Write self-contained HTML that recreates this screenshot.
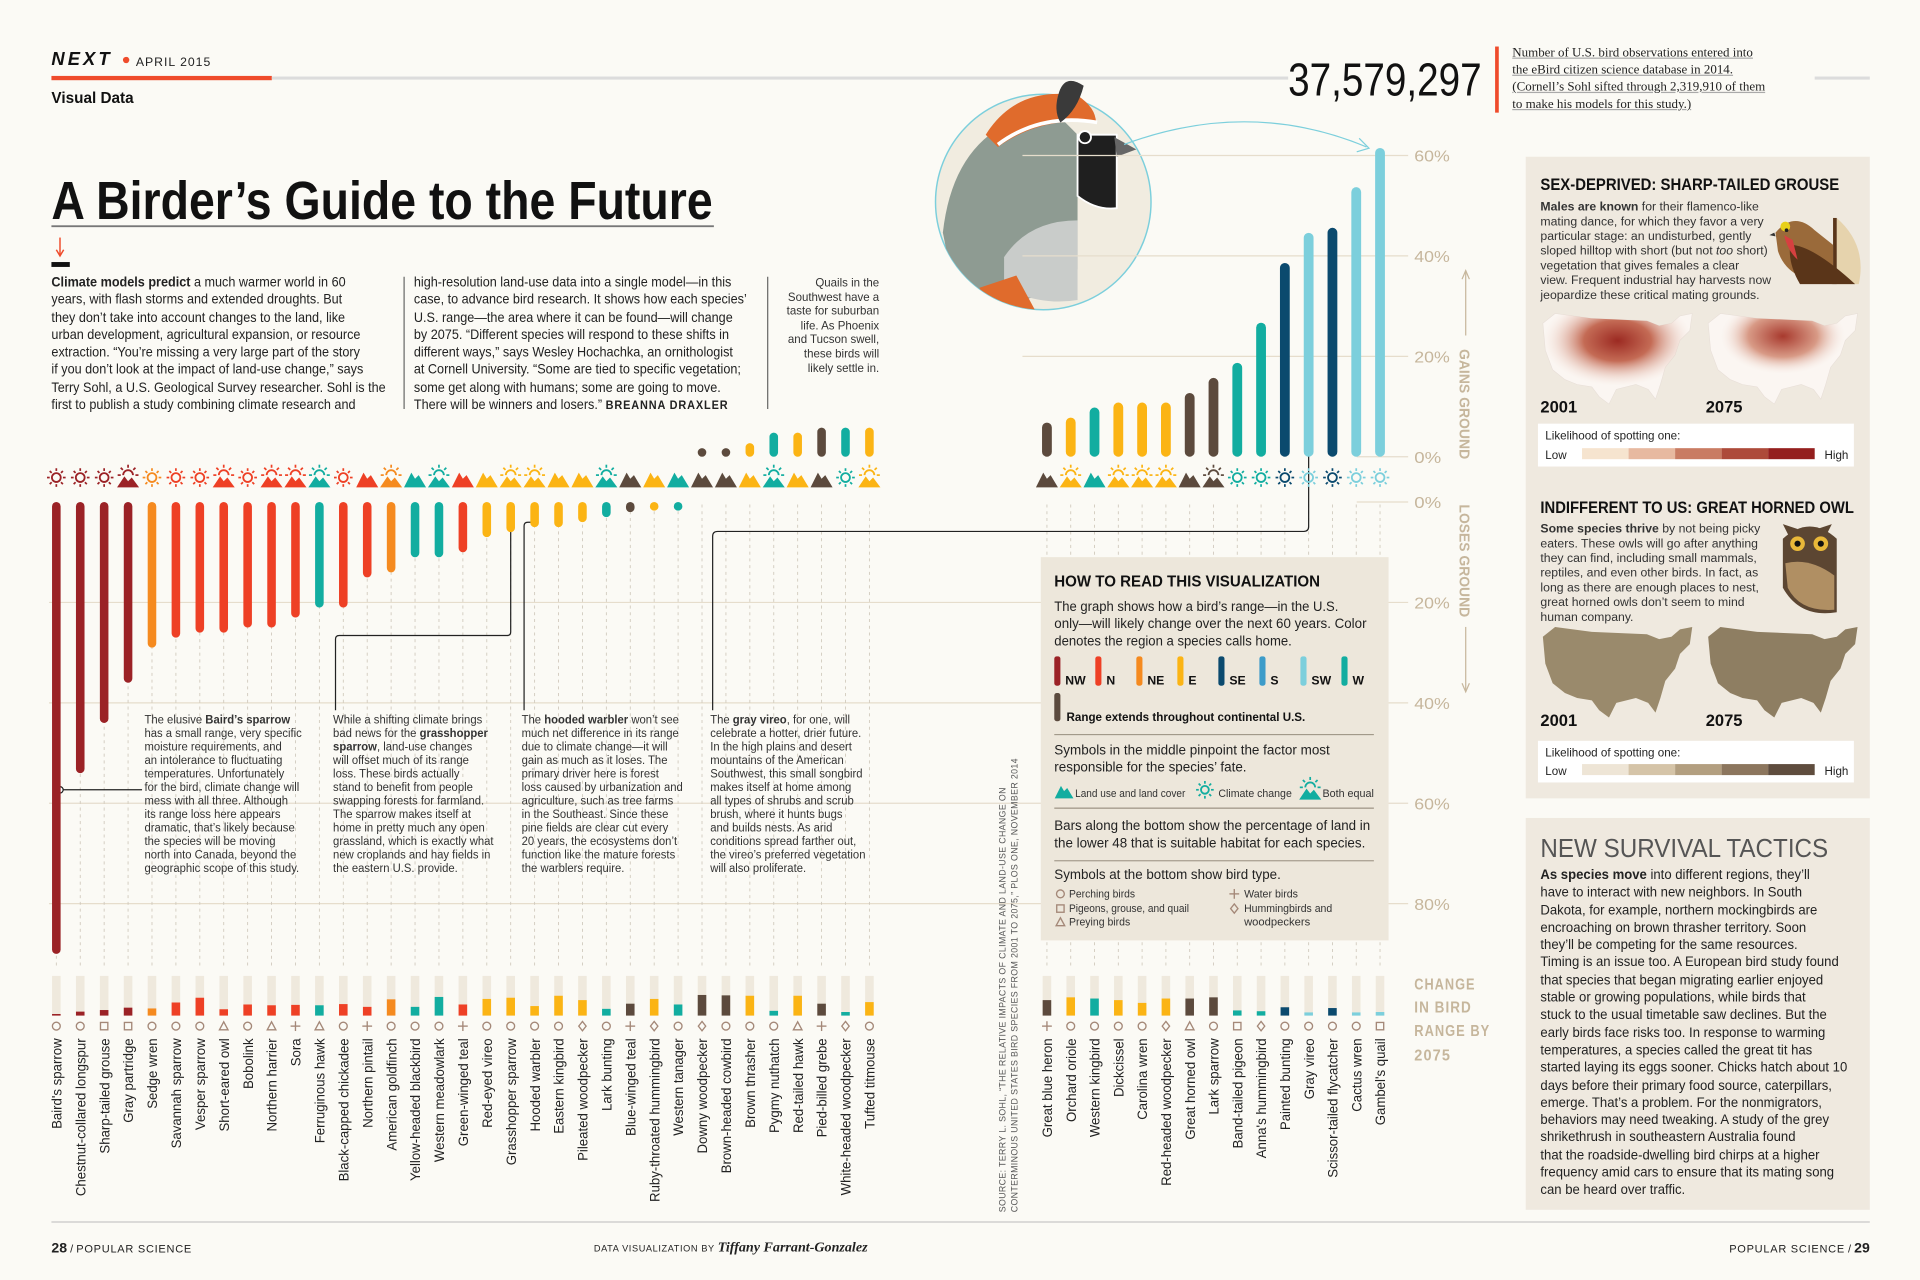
<!DOCTYPE html>
<html><head><meta charset="utf-8"><style>
*{margin:0;padding:0;box-sizing:border-box}
body{width:1920px;height:1280px;background:#fbfaf5;overflow:hidden;font-family:"Liberation Sans Narrow","Liberation Sans",sans-serif;color:#222}
#wrap{position:absolute;left:0;top:0;width:1568px;height:1045px;transform:scale(1.22449);transform-origin:0 0}
.abs{position:absolute}
.col{font-size:11.6px;line-height:14.25px;color:#222;white-space:nowrap;transform:scaleX(0.89);transform-origin:0 0}
.ann{font-size:9.6px;line-height:11px;color:#333;white-space:nowrap;transform:scaleX(0.96);transform-origin:0 0}
.pt{font-size:10px;line-height:12px;color:#333;white-space:nowrap}
</style></head><body>
<div id="wrap">
<svg id="chart" width="1568" height="1045" viewBox="0 0 1568 1045" style="position:absolute;left:0;top:0">
  <text x="42" y="53" font-family="Liberation Sans" font-weight="bold" font-style="italic" font-size="15" letter-spacing="2.5" fill="#111">NEXT</text>
  <circle cx="103" cy="49" r="2.6" fill="#ef4b2b"/>
  <text x="111" y="54" font-family="Liberation Sans" font-size="10" letter-spacing="0.8" fill="#222">APRIL 2015</text>
  <rect x="42" y="62" width="180" height="3.5" fill="#ef4b2b"/>
  <rect x="222" y="62.5" width="830" height="2.5" fill="#dcdcdc"/>
  <rect x="1482" y="62.5" width="45" height="2.5" fill="#dcdcdc"/>
  <text x="42" y="84" font-family="Liberation Sans" font-weight="bold" font-size="12.5" fill="#111">Visual Data</text>
  <text x="42" y="179" font-family="Liberation Sans" font-weight="bold" font-size="44" textLength="540" lengthAdjust="spacingAndGlyphs" fill="#111">A Birder’s Guide to the Future</text>
  <rect x="42" y="184" width="541" height="1.5" fill="#777"/>
  <line x1="49" y1="194" x2="49" y2="208" stroke="#ef4b2b" stroke-width="1.2"/>
  <path d="M46 204 L49 209 L52 204" fill="none" stroke="#ef4b2b" stroke-width="1.2"/>
  <rect x="42" y="214" width="15" height="4" fill="#111"/>
  <line x1="330" y1="226" x2="330" y2="334" stroke="#444" stroke-width="0.8"/>
  <line x1="627" y1="226" x2="627" y2="334" stroke="#444" stroke-width="0.8"/>
  <text x="1052" y="78" font-family="Liberation Sans" font-size="38" textLength="158" lengthAdjust="spacingAndGlyphs" fill="#111">37,579,297</text>
  <rect x="1221" y="38" width="3" height="54" fill="#ef4b2b"/>

  <g>
    <circle cx="852" cy="165" r="88" fill="#f1ece0" stroke="#7ccfdc" stroke-width="1.2"/>
    <clipPath id="qc"><circle cx="852" cy="165" r="88"/></clipPath>
    <g clip-path="url(#qc)">
      <path d="M770 190 Q780 100 860 90 L880 110 L880 220 Q840 260 780 240 Z" fill="#8e9b92"/>
      <path d="M820 210 Q840 180 880 180 L880 245 Q850 250 820 235 Z" fill="#c9ccca"/>
      <path d="M800 235 L830 225 L850 262 L805 262 Z" fill="#e06b2c"/>
    </g>
    <path d="M805 110 Q830 70 880 78 Q895 88 895 100 Q850 95 815 120 Z" fill="#e06b2c"/>
    <path d="M815 118 Q850 92 896 100" fill="none" stroke="#fff" stroke-width="3"/>
    <path d="M866 100 Q880 90 885 70 Q870 60 865 75 Q860 90 866 100Z" fill="#3a3a3a"/>
    <path d="M880 110 L912 110 L912 170 Q895 172 880 160 Z" fill="#1f1f1f" stroke="#fff" stroke-width="1.5"/>
    <circle cx="886" cy="112" r="5" fill="#1f1f1f" stroke="#fff" stroke-width="1.5"/>
    <path d="M910 112 L928 122 L912 128 Z" fill="#666"/>
    <path d="M918 118 Q1020 80 1116 120" fill="none" stroke="#7ccfdc" stroke-width="1"/>
    <path d="M1110 113 L1118 121 L1108 124" fill="none" stroke="#7ccfdc" stroke-width="1"/>
  </g>

  <g font-family="Liberation Sans" font-size="13" fill="#c6b69c" id="yaxis"></g>
  <text transform="translate(1192,285) rotate(90)" font-family="Liberation Sans" font-weight="bold" font-size="12" textLength="90" lengthAdjust="spacingAndGlyphs" fill="#c6b69c">GAINS GROUND</text>
  <line x1="1197" y1="222" x2="1197" y2="274" stroke="#c6b69c" stroke-width="1"/>
  <path d="M1194 228 L1197 221 L1200 228" fill="none" stroke="#c6b69c"/>
  <text transform="translate(1192,412) rotate(90)" font-family="Liberation Sans" font-weight="bold" font-size="12" textLength="92" lengthAdjust="spacingAndGlyphs" fill="#c6b69c">LOSES GROUND</text>
  <line x1="1197" y1="512" x2="1197" y2="564" stroke="#c6b69c" stroke-width="1"/>
  <path d="M1194 558 L1197 565 L1200 558" fill="none" stroke="#c6b69c"/>
  <g font-family="Liberation Sans" font-weight="bold" font-size="13" letter-spacing="1" fill="#c6b69c">
    <text x="1155" y="808" textLength="50" lengthAdjust="spacingAndGlyphs">CHANGE</text><text x="1155" y="827" textLength="47" lengthAdjust="spacingAndGlyphs">IN BIRD</text><text x="1155" y="846" textLength="62" lengthAdjust="spacingAndGlyphs">RANGE BY</text><text x="1155" y="866" textLength="30" lengthAdjust="spacingAndGlyphs">2075</text>
  </g>
  <g id="grid"></g>
  <g id="dashes"></g>
  <g id="connectors" fill="none" stroke="#222" stroke-width="1"></g>
  <g id="bars"></g>
  <g id="icons"></g>
  <g id="habitat"></g>
  <g id="types"></g>
  <g id="names" font-family="Liberation Sans" font-size="11.6" fill="#222"></g>

  <text transform="translate(821,990) rotate(-90)" font-family="Liberation Sans" font-size="7.2" letter-spacing="0.3" fill="#555">SOURCE: TERRY L. SOHL, “THE RELATIVE IMPACTS OF CLIMATE AND LAND-USE CHANGE ON</text>
  <text transform="translate(831,990) rotate(-90)" font-family="Liberation Sans" font-size="7.2" letter-spacing="0.3" fill="#555">CONTERMINOUS UNITED STATES BIRD SPECIES FROM 2001 TO 2075,” PLOS ONE, NOVEMBER 2014</text>

  <g>
    <rect x="850" y="455" width="284" height="313" fill="#ede7db"/>
    <text x="861" y="479" font-family="Liberation Sans" font-weight="bold" font-size="13" textLength="217" lengthAdjust="spacingAndGlyphs" fill="#111">HOW TO READ THIS VISUALIZATION</text>
    <g font-family="Liberation Sans" font-size="11" fill="#222">
      <text x="861" y="499" textLength="232" lengthAdjust="spacingAndGlyphs">The graph shows how a bird’s range—in the U.S.</text>
      <text x="861" y="513" textLength="255" lengthAdjust="spacingAndGlyphs">only—will likely change over the next 60 years. Color</text>
      <text x="861" y="527" textLength="194" lengthAdjust="spacingAndGlyphs">denotes the region a species calls home.</text>
    </g>
    <g id="legend" font-family="Liberation Sans" font-size="10" fill="#111"></g>
    <rect x="861" y="566" width="5" height="23" rx="2" fill="#5b4a3e"/>
    <text x="871" y="589" font-family="Liberation Sans" font-size="10" font-weight="bold" textLength="195" lengthAdjust="spacingAndGlyphs" fill="#111">Range extends throughout continental U.S.</text>
    <line x1="861" y1="600" x2="1122" y2="600" stroke="#8a8070" stroke-width="0.8"/>
    <g font-family="Liberation Sans" font-size="11" fill="#222">
      <text x="861" y="616" textLength="225" lengthAdjust="spacingAndGlyphs">Symbols in the middle pinpoint the factor most</text>
      <text x="861" y="630" textLength="157" lengthAdjust="spacingAndGlyphs">responsible for the species’ fate.</text>
      <text x="861" y="678" textLength="258" lengthAdjust="spacingAndGlyphs">Bars along the bottom show the percentage of land in</text>
      <text x="861" y="692" textLength="254" lengthAdjust="spacingAndGlyphs">the lower 48 that is suitable habitat for each species.</text>
      <text x="861" y="718" textLength="185" lengthAdjust="spacingAndGlyphs">Symbols at the bottom show bird type.</text>
    </g>
    <g id="legicons"></g>
    <g font-family="Liberation Sans" font-size="9" fill="#333">
      <text x="878" y="651" textLength="90" lengthAdjust="spacingAndGlyphs">Land use and land cover</text>
      <text x="995" y="651" textLength="60" lengthAdjust="spacingAndGlyphs">Climate change</text>
      <text x="1080" y="651" textLength="42" lengthAdjust="spacingAndGlyphs">Both equal</text>
      <text x="873" y="733" textLength="54" lengthAdjust="spacingAndGlyphs">Perching birds</text>
      <text x="873" y="745" textLength="98" lengthAdjust="spacingAndGlyphs">Pigeons, grouse, and quail</text>
      <text x="873" y="756" textLength="50" lengthAdjust="spacingAndGlyphs">Preying birds</text>
      <text x="1016" y="733" textLength="44" lengthAdjust="spacingAndGlyphs">Water birds</text>
      <text x="1016" y="745" textLength="72" lengthAdjust="spacingAndGlyphs">Hummingbirds and</text>
      <text x="1016" y="756" textLength="54" lengthAdjust="spacingAndGlyphs">woodpeckers</text>
    </g>
    <line x1="861" y1="660" x2="1122" y2="660" stroke="#8a8070" stroke-width="0.8"/>
    <line x1="861" y1="703" x2="1122" y2="703" stroke="#8a8070" stroke-width="0.8"/>
  </g>

  <rect x="1246" y="128" width="281" height="524" fill="#efe9df"/>
  <rect x="1246" y="668" width="281" height="320" fill="#efe9df"/>
  <text x="1258" y="155" font-family="Liberation Sans" font-weight="bold" font-size="13.5" textLength="244" lengthAdjust="spacingAndGlyphs" fill="#111">SEX-DEPRIVED: SHARP-TAILED GROUSE</text>
  <text x="1258" y="419" font-family="Liberation Sans" font-weight="bold" font-size="13.5" textLength="256" lengthAdjust="spacingAndGlyphs" fill="#111">INDIFFERENT TO US: GREAT HORNED OWL</text>
  <text x="1258" y="700" font-family="Liberation Sans" font-size="21" textLength="235" lengthAdjust="spacingAndGlyphs" fill="#555">NEW SURVIVAL TACTICS</text>
  <g>
    <path d="M1500 178 Q1525 200 1518 232 L1500 232 Z" fill="#e6d3ad"/>
    <rect x="1497" y="178" width="3" height="54" fill="#5a3519"/>
    <path d="M1450 190 Q1465 172 1482 188 L1497 200 L1497 232 Q1460 230 1452 205 Z" fill="#9a6a3a"/>
    <path d="M1462 200 Q1480 200 1515 232 L1470 232 Q1460 215 1462 200Z" fill="#5a3519"/>
    <path d="M1457 192 Q1460 205 1468 212 L1464 196Z" fill="#d64040"/>
    <circle cx="1458" cy="185" r="4" fill="#e8d01a"/>
    <circle cx="1459" cy="188" r="1.5" fill="#222"/>
    <path d="M1449 190 L1445 192 L1450 193Z" fill="#333"/>
  </g>
  <g>
    <path d="M1456 440 Q1478 420 1500 440 L1500 500 Q1470 505 1456 480 Z" fill="#5c4632"/>
    <path d="M1456 428 L1462 440 L1468 432Z M1496 428 L1490 440 L1484 432Z" fill="#5c4632"/>
    <circle cx="1468" cy="444" r="6" fill="#e9b839"/><circle cx="1487" cy="444" r="6" fill="#e9b839"/>
    <circle cx="1468" cy="444" r="2.5" fill="#111"/><circle cx="1487" cy="444" r="2.5" fill="#111"/>
    <path d="M1458 460 Q1478 455 1498 470 L1498 498 Q1470 500 1460 480Z" fill="#b08f63"/>
  </g>
  <defs>
    <path id="us" d="M0 8 L10 0 L40 4 L85 6 L95 10 L105 8 L112 2 L122 0 L120 14 L112 22 L108 34 L100 44 L96 58 L92 70 L86 62 L76 58 L60 62 L54 74 L46 68 L40 60 L28 58 L18 54 L8 46 L2 30 Z"/>
    <radialGradient id="gr1" cx="0.5" cy="0.3" r="0.5"><stop offset="0" stop-color="#9c2a22"/><stop offset="0.45" stop-color="#c46b55"/><stop offset="1" stop-color="#f3e2d8" stop-opacity="0"/></radialGradient>
    <radialGradient id="gr2" cx="0.5" cy="0.25" r="0.42"><stop offset="0" stop-color="#a83a2e"/><stop offset="0.55" stop-color="#d89a86"/><stop offset="1" stop-color="#f6ece6" stop-opacity="0"/></radialGradient>
  </defs>
  <g transform="translate(1260,256)"><use href="#us" fill="#fbf6f2" stroke="#e8dfd8" stroke-width="0.5"/><use href="#us" fill="url(#gr1)"/></g>
  <g transform="translate(1395,256)"><use href="#us" fill="#fbf6f2" stroke="#e8dfd8" stroke-width="0.5"/><use href="#us" fill="url(#gr2)"/></g>
  <g transform="translate(1260,512)"><use href="#us" fill="#9a8a6c"/></g>
  <g transform="translate(1395,512)"><use href="#us" fill="#8e7e62"/></g>
  <g font-family="Liberation Sans" font-weight="bold" font-size="13.5" fill="#111">
    <text x="1258" y="337">2001</text><text x="1393" y="337">2075</text>
    <text x="1258" y="593">2001</text><text x="1393" y="593">2075</text>
  </g>
  <rect x="1256" y="346" width="258" height="35" fill="#fff"/>
  <rect x="1256" y="605" width="258" height="34" fill="#fff"/>
  <g font-family="Liberation Sans" font-size="9.5" fill="#222">
    <text x="1262" y="359">Likelihood of spotting one:</text><text x="1262" y="375">Low</text><text x="1490" y="375">High</text>
    <text x="1262" y="618">Likelihood of spotting one:</text><text x="1262" y="633">Low</text><text x="1490" y="633">High</text>
  </g>
  <g id="scales"></g>

  <line x1="42" y1="998" x2="1527" y2="998" stroke="#bbb" stroke-width="0.8"/>
  <text x="42" y="1023" font-family="Liberation Sans" font-size="9" fill="#222"><tspan font-weight="bold" font-size="11.5">28</tspan> / <tspan letter-spacing="0.6">POPULAR SCIENCE</tspan></text>
  <text x="485" y="1022" font-family="Liberation Sans" font-size="7.5" letter-spacing="0.5" fill="#222">DATA VISUALIZATION BY <tspan font-family="Liberation Serif" font-style="italic" font-weight="bold" font-size="11.5" letter-spacing="0">Tiffany Farrant-Gonzalez</tspan></text>
  <text x="1527" y="1023" text-anchor="end" font-family="Liberation Sans" font-size="9" fill="#222"><tspan letter-spacing="0.6">POPULAR SCIENCE</tspan> / <tspan font-weight="bold" font-size="11.5">29</tspan></text>
</svg>

<div class="abs" style="left:1235px;top:37px;font-family:'Liberation Serif',serif;font-size:10.6px;line-height:14px;color:#222;white-space:nowrap;text-decoration:underline;text-decoration-color:#aaa">Number of U.S. bird observations entered into<br>the eBird citizen science database in 2014.<br>(Cornell’s Sohl sifted through 2,319,910 of them<br>to make his models for this study.)</div>

<div class="abs col" style="left:42px;top:224px"><b>Climate models predict</b> a much warmer world in 60<br>years, with flash storms and extended droughts. But<br>they don’t take into account changes to the land, like<br>urban development, agricultural expansion, or resource<br>extraction. “You’re missing a very large part of the story<br>if you don’t look at the impact of land-use change,” says<br>Terry Sohl, a U.S. Geological Survey researcher. Sohl is the<br>first to publish a study combining climate research and</div>
<div class="abs col" style="left:338px;top:224px">high-resolution land-use data into a single model—in this<br>case, to advance bird research. It shows how each species’<br>U.S. range—the area where it can be found—will change<br>by 2075. “Different species will respond to these shifts in<br>different ways,” says Wesley Hochachka, an ornithologist<br>at Cornell University. “Some are tied to specific vegetation;<br>some get along with humans; some are going to move.<br>There will be winners and losers.” <b style="letter-spacing:.8px;font-size:10px">BREANNA DRAXLER</b></div>
<div class="abs" style="left:628px;top:225px;width:90px;text-align:right;font-size:9.4px;line-height:11.6px;color:#333;white-space:nowrap">Quails in the<br>Southwest have a<br>taste for suburban<br>life. As Phoenix<br>and Tucson swell,<br>these birds will<br>likely settle in.</div>

<div class="abs ann" style="left:118px;top:583px">The elusive <b>Baird’s sparrow</b><br>has a small range, very specific<br>moisture requirements, and<br>an intolerance to fluctuating<br>temperatures. Unfortunately<br>for the bird, climate change will<br>mess with all three. Although<br>its range loss here appears<br>dramatic, that’s likely because<br>the species will be moving<br>north into Canada, beyond the<br>geographic scope of this study.</div>
<div class="abs ann" style="left:272px;top:583px">While a shifting climate brings<br>bad news for the <b>grasshopper<br>sparrow</b>, land-use changes<br>will offset much of its range<br>loss. These birds actually<br>stand to benefit from people<br>swapping forests for farmland.<br>The sparrow makes itself at<br>home in pretty much any open<br>grassland, which is exactly what<br>new croplands and hay fields in<br>the eastern U.S. provide.</div>
<div class="abs ann" style="left:426px;top:583px">The <b>hooded warbler</b> won’t see<br>much net difference in its range<br>due to climate change—it will<br>gain as much as it loses. The<br>primary driver here is forest<br>loss caused by urbanization and<br>agriculture, such as tree farms<br>in the Southeast. Since these<br>pine fields are clear cut every<br>20 years, the ecosystems don’t<br>function like the mature forests<br>the warblers require.</div>
<div class="abs ann" style="left:580px;top:583px">The <b>gray vireo</b>, for one, will<br>celebrate a hotter, drier future.<br>In the high plains and desert<br>mountains of the American<br>Southwest, this small songbird<br>makes itself at home among<br>all types of shrubs and scrub<br>brush, where it hunts bugs<br>and builds nests. As arid<br>conditions spread farther out,<br>the vireo’s preferred vegetation<br>will also proliferate.</div>

<div class="abs pt" style="left:1258px;top:164px"><b>Males are known</b> for their flamenco-like<br>mating dance, for which they favor a very<br>particular stage: an undisturbed, gently<br>sloped hilltop with short (but not <i>too</i> short)<br>vegetation that gives females a clear<br>view. Frequent industrial hay harvests now<br>jeopardize these critical mating grounds.</div>
<div class="abs pt" style="left:1258px;top:427px"><b>Some species thrive</b> by not being picky<br>eaters. These owls will go after anything<br>they can find, including small mammals,<br>reptiles, and even other birds. In fact, as<br>long as there are enough places to nest,<br>great horned owls don’t seem to mind<br>human company.</div>
<div class="abs" style="left:1258px;top:708px;font-size:11.4px;line-height:14.3px;color:#222;white-space:nowrap;transform:scaleX(0.94);transform-origin:0 0"><b>As species move</b> into different regions, they’ll<br>have to interact with new neighbors. In South<br>Dakota, for example, northern mockingbirds are<br>encroaching on brown thrasher territory. Soon<br>they’ll be competing for the same resources.<br>Timing is an issue too. A European bird study found<br>that species that began migrating earlier enjoyed<br>stable or growing populations, while birds that<br>stuck to the usual timetable saw declines. But the<br>early birds face risks too. In response to warming<br>temperatures, a species called the great tit has<br>started laying its eggs sooner. Chicks hatch about 10<br>days before their primary food source, caterpillars,<br>emerge. That’s a problem. For the nonmigrators,<br>behaviors may need tweaking. A study of the grey<br>shrikethrush in southeastern Australia found<br>that the roadside-dwelling bird chirps at a higher<br>frequency amid cars to ensure that its mating song<br>can be heard over traffic.</div>
</div>

<script>
const speciesNames = ["Baird's sparrow","Chestnut-collared longspur","Sharp-tailed grouse","Gray partridge","Sedge wren","Savannah sparrow","Vesper sparrow","Short-eared owl","Bobolink","Northern harrier","Sora","Ferruginous hawk","Black-capped chickadee","Northern pintail","American goldfinch","Yellow-headed blackbird","Western meadowlark","Green-winged teal","Red-eyed vireo","Grasshopper sparrow","Hooded warbler","Eastern kingbird","Pileated woodpecker","Lark bunting","Blue-winged teal","Ruby-throated hummingbird","Western tanager","Downy woodpecker","Brown-headed cowbird","Brown thrasher","Pygmy nuthatch","Red-tailed hawk","Pied-billed grebe","White-headed woodpecker","Tufted titmouse","Great blue heron","Orchard oriole","Western kingbird","Dickcissel","Carolina wren","Red-headed woodpecker","Great horned owl","Lark sparrow","Band-tailed pigeon","Anna's hummingbird","Painted bunting","Gray vireo","Scissor-tailed flycatcher","Cactus wren","Gambel's quail"];
const rangeChange = [-90,-54,-44,-36,-29,-27,-26,-26,-25,-25,-23,-21,-21,-15,-14,-11,-11,-10,-7,-6,-5,-5,-4,-3,-2,-0.5,-0.5,1.5,1.5,2.7,4.8,4.8,5.8,5.8,5.8,6.8,7.8,9.8,10.8,10.8,10.8,12.7,15.7,18.7,26.7,38.6,44.6,45.6,53.7,61.5];
const region = ["NW","NW","NW","NW","NE","N","N","N","N","N","N","W","N","N","NE","W","W","N","E","E","E","E","E","W","US","E","W","US","US","E","W","E","US","W","E","US","E","W","E","E","E","US","US","W","W","SE","SW","SE","SW","SW"];
const factor = ["C","C","C","B","C","C","C","B","C","B","B","B","C","L","B","L","B","L","L","B","B","L","L","B","L","L","L","L","L","L","B","L","L","C","B","L","B","L","B","B","B","L","B","C","C","C","C","C","C","C"];
const habitatPct = [4,10,14,20,18,33,45,16,28,26,27,26,29,22,41,22,47,28,42,45,24,50,39,17,30,42,28,52,51,50,12,50,30,9,34,39,46,43,39,32,43,43,46,13,11,21,8,19,8,9];
const birdType = ["P","P","G","G","P","P","P","R","P","R","W","R","P","W","P","P","P","W","P","P","P","P","H","P","W","H","P","H","P","P","P","R","W","H","P","W","P","P","P","P","H","R","P","G","H","P","P","P","P","G"];
const gainTicks = [0,20,40,60];
const lossTicks = [0,20,40,60,80];
const legendRegions = ["NW","N","NE","E","SE","S","SW","W"];
const scaleGrouse = ["#f6e4cf","#e7b9a0","#c97c63","#ad4a3a","#941f1e"];
const scaleOwl = ["#eee5d6","#d5c4a8","#b39f80","#8c765e","#5f4d3e"];

const COL = {NW:"#9b2226",N:"#ee4025",NE:"#f58a1f",E:"#fbb414",SE:"#0b4a6e",S:"#3d9cc9",SW:"#7ccfdc",W:"#12ada0",US:"#5c4a3d"};
const NS="http://www.w3.org/2000/svg";
function mk(tag,attrs,parent){const e=document.createElementNS(NS,tag);for(const k in attrs)e.setAttribute(k,attrs[k]);parent.appendChild(e);return e;}
const PX=4.1;
function xPos(i){return i<35?46+i*19.53:855+(i-35)*19.43;}
function yGain(v){return 373-v*PX;}
function yLoss(v){return 410+v*PX;}
const hbTop=797,hbH=32.4;
function yHab(p){return hbTop+hbH-p/100*hbH;}

const yaxis=document.getElementById('yaxis'), grid=document.getElementById('grid');
gainTicks.forEach(t=>{
  const tx=mk('text',{x:1155,y:yGain(t)+5,textLength:t===0?22:29,lengthAdjust:'spacingAndGlyphs'},yaxis);tx.textContent=t+'%';
  
  
  mk('line',{x1:t===0?1108:835,x2:1150,y1:yGain(t),y2:yGain(t),stroke:'#e6ddcc','stroke-width':1},grid);
});
lossTicks.forEach(t=>{
  const tx=mk('text',{x:1155,y:yLoss(t)+5,textLength:t===0?22:29,lengthAdjust:'spacingAndGlyphs'},yaxis);tx.textContent=t+'%';
  
  
  mk('line',{x1:t===0?1108:40,x2:1150,y1:yLoss(t),y2:yLoss(t),stroke:'#e6ddcc','stroke-width':1},grid);
});
const dashes=document.getElementById('dashes');
speciesNames.forEach((n,i)=>{mk('line',{x1:xPos(i),x2:xPos(i),y1:412,y2:790,stroke:'#cfc8bb','stroke-width':0.7,'stroke-dasharray':'2.5 3'},dashes);});

function sun(g,cx,cy,r,c){
  mk('circle',{cx:cx,cy:cy,r:r,fill:'none',stroke:c,'stroke-width':1.5},g);
  for(let k=0;k<8;k++){const a=k*Math.PI/4;mk('line',{x1:cx+Math.cos(a)*(r+1.8),y1:cy+Math.sin(a)*(r+1.8),x2:cx+Math.cos(a)*(r+4),y2:cy+Math.sin(a)*(r+4),stroke:c,'stroke-width':1.4},g);}
}
function land(g,cx,by,c,s){s=s||1;mk('path',{d:`M${cx-9*s} ${by} L${cx-3*s} ${by-12*s} L${cx} ${by-7*s} L${cx+3*s} ${by-10*s} L${cx+9*s} ${by} Z`,fill:c},g);}
function both(g,cx,by,c){
  const yy=by-11;
  mk('path',{d:`M${cx-4} ${yy+1} A4 4 0 0 1 ${cx+4} ${yy+1}`,fill:'none',stroke:c,'stroke-width':1.5},g);
  for(let k=0;k<5;k++){const a=Math.PI+k*Math.PI/4;mk('line',{x1:cx+Math.cos(a)*6,y1:yy+1+Math.sin(a)*6,x2:cx+Math.cos(a)*8.5,y2:yy+1+Math.sin(a)*8.5,stroke:c,'stroke-width':1.4},g);}
  mk('path',{d:`M${cx-9} ${by} L${cx-3} ${by-9} L${cx} ${by-5} L${cx+3} ${by-8} L${cx+9} ${by} Z`,fill:c},g);
}
function drawIcon(g,f,cx,c){
  if(f==='C')sun(g,cx,390,3.6,c);else if(f==='L')land(g,cx,398,c);else both(g,cx,398,c);
}
function typeMarker(g,t,cx,cy,c){
  const a={fill:'none',stroke:c,'stroke-width':1.1};
  if(t==='P')mk('circle',Object.assign({cx:cx,cy:cy,r:3.2},a),g);
  else if(t==='G')mk('rect',Object.assign({x:cx-3,y:cy-3,width:6,height:6},a),g);
  else if(t==='R')mk('path',Object.assign({d:`M${cx} ${cy-3.5} L${cx+3.5} ${cy+3} L${cx-3.5} ${cy+3} Z`},a),g);
  else if(t==='W'){mk('line',Object.assign({x1:cx-4,x2:cx+4,y1:cy,y2:cy},a),g);mk('line',Object.assign({x1:cx,x2:cx,y1:cy-4,y2:cy+4},a),g);}
  else mk('path',Object.assign({d:`M${cx} ${cy-3.8} L${cx+3} ${cy} L${cx} ${cy+3.8} L${cx-3} ${cy} Z`},a),g);
}

const bars=document.getElementById('bars'),icons=document.getElementById('icons'),hab=document.getElementById('habitat'),types=document.getElementById('types'),names=document.getElementById('names');
speciesNames.forEach((n,i)=>{
  const x=xPos(i),v=rangeChange[i],c=COL[region[i]];
  const w=i<35?7:8;
  let y0,h;
  if(v<0){y0=yLoss(0);h=Math.max(yLoss(-v)-y0,w);}else{const yt=yGain(v);h=Math.max(yGain(0)-yt,w);y0=yGain(0)-h;}
  const r=mk('rect',{x:x-w/2,y:y0,width:w,height:h,rx:w/2,fill:c},bars);
  
  
  const ig=mk('g',{},icons);
  
  
  drawIcon(ig,factor[i],x,c);
  const bg=mk('rect',{x:x-3.5,y:hbTop,width:7,height:hbH,fill:'#efe9dd'},hab);
  
  
  const hb=mk('rect',{x:x-3.5,y:yHab(habitatPct[i]),width:7,height:hbTop+hbH-yHab(habitatPct[i]),fill:c},hab);
  
  
  const tg=mk('g',{},types);
  
  
  typeMarker(tg,birdType[i],x,838,'#a48878');
  const t=mk('text',{transform:`translate(${x+4.2},848) rotate(-90) scale(0.93,1)`,'text-anchor':'end'},names);
  t.textContent=n;
  
  
});

const cn=document.getElementById('connectors');
function dot(x,y){mk('circle',{cx:x,cy:y,r:2.6,fill:'#fff',stroke:'#222','stroke-width':1},cn);}
mk('path',{d:`M${xPos(0)} 645 L116 645`},cn);dot(xPos(0)+3,645);
{const x=xPos(19),y=yLoss(-rangeChange[19])-4;mk('path',{d:`M${x} ${y} L${x} 516 Q${x} 519 ${x-3} 519 L277 519 Q274 519 274 522 L274 580`},cn);dot(x,y);}
{const x=xPos(20),y=yLoss(-rangeChange[20])-4;mk('path',{d:`M${x} ${y} L431 ${y} Q428 ${y} 428 ${y+3} L428 580`},cn);dot(x,y);}
{const x=xPos(46),y=yGain(0)-4;mk('path',{d:`M${x} ${y} L${x} 430 Q${x} 434 ${x-4} 434 L586 434 Q582 434 582 438 L582 580`},cn);dot(x,y);}

const lg=document.getElementById('legend');
legendRegions.forEach((r,k)=>{
  const x=861+k*33.5;
  const b=mk('rect',{x:x,y:536,width:5,height:24,rx:2,fill:COL[r]},lg);
  
  
  const t=mk('text',{x:x+9,y:559,'font-weight':'bold'},lg);t.textContent=r;
});
const li=document.getElementById('legicons');
land(li,869,652,'#12ada0',0.85);sun(li,984,645,3.2,'#12ada0');both(li,1070,653,'#12ada0');
[['P',866,730],['G',866,742],['R',866,753],['W',1008,730],['H',1008,742]].forEach(a=>typeMarker(li,a[0],a[1],a[2],'#a48878'));

const sc=document.getElementById('scales');
scaleGrouse.forEach((c,k)=>mk('rect',{x:1292+k*38,y:366,width:38,height:9,fill:c},sc));
scaleOwl.forEach((c,k)=>mk('rect',{x:1292+k*38,y:624,width:38,height:9,fill:c},sc));
</script>
</body></html>
